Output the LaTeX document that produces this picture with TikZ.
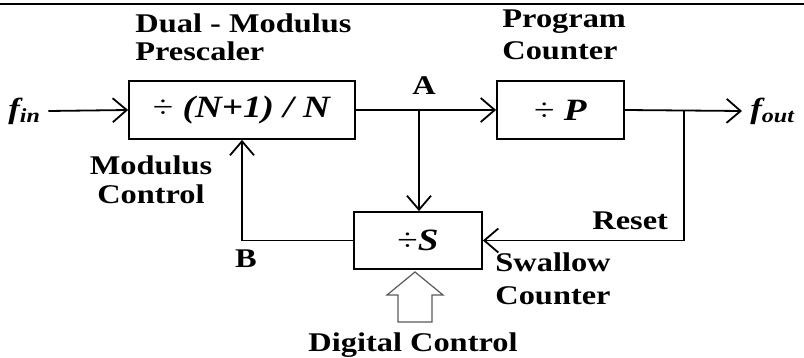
\documentclass[tikz,border=0pt]{standalone}
\usepackage{fontspec}
\setmainfont{Liberation Serif}[FakeStretch=1.2]
\usetikzlibrary{arrows.meta}

\begin{document}
\begin{tikzpicture}[x=0.5pt,y=-0.5pt,
    blk/.style={draw,line width=0.9pt,minimum height=29pt,inner sep=0pt,
      font=\fontsize{15.5}{17}\selectfont\bfseries},
    lbl/.style={inner sep=0pt,font=\fontsize{13.5}{15}\selectfont\bfseries},
    sig/.style={line width=0.9pt,-{Straight Barb[length=7pt,width=12pt]}}]
  \useasboundingbox (0,0) rectangle (804,358);
  \draw[line width=1.2pt] (0,4)--(804,4);
  % blocks
  \node[blk,minimum width=113pt] (pres) at (242,110) {{\mdseries÷} \textit{(N+1) / N}};
  \node[blk,minimum width=63.5pt] (prog) at (560.5,110) {{\mdseries÷} \textit{P}};
  \node[blk,minimum width=64pt,minimum height=28.5pt] (swal) at (418,240.5) {{\mdseries÷}\textit{S}};
  % in and out
  \node[lbl,anchor=west,font=\fontsize{14.5}{15}\selectfont\bfseries\itshape] (fin) at (8,111)
    {f\raisebox{-0.35ex}{\fontsize{10}{10}\selectfont in}};
  \node[lbl,anchor=west,font=\fontsize{14.5}{15}\selectfont\bfseries\itshape] (fout) at (750,111)
    {f\raisebox{-0.35ex}{\fontsize{10}{10}\selectfont out}};
  \coordinate (A) at (419,110);
  \coordinate (R) at (684,110);
  \draw[sig] (fin.east)++(8,0)--(pres.west);
  \draw[sig] (pres.east)--(prog.west);
  \draw[sig] (prog.east)--([xshift=-4pt]fout.west);
  \draw[sig] (A)--(A|-swal.north);
  \draw[sig] (R)|-(swal.east);
  \draw[sig] (swal.west)-|(pres.south);
  % digital control arrow
  \draw[line width=0.6pt,draw=black!65] (398,322)--(398,295)--(387,295)--(415,272)
    --(443,295)--(432,295)--(432,322)--cycle;
  % labels
  \node[lbl,anchor=base west] (dual) at (135,33) {Dual - Modulus};
  \node[lbl,anchor=base west] (presc) at (135,61) {Prescaler};
  \node[lbl,anchor=base west] (progr) at (502,28) {Program};
  \node[lbl,anchor=base west] (cntr) at (502,60) {Counter};
  \node[lbl,anchor=base] (la) at (424,95) {A};
  \node[lbl,anchor=base] (modu) at (151,175) {Modulus};
  \node[lbl,anchor=base] (ctrl) at (151,204) {Control};
  \node[lbl,anchor=base] (lb) at (246,267) {B};
  \node[lbl,anchor=base west] (rst) at (592,229) {Reset};
  \node[lbl,anchor=base west] (swl) at (495,271) {Swallow};
  \node[lbl,anchor=base west] (scnt) at (495,304) {Counter};
  \node[lbl,anchor=base] (dig) at (413,351) {Digital Control};
\end{tikzpicture}
\end{document}
